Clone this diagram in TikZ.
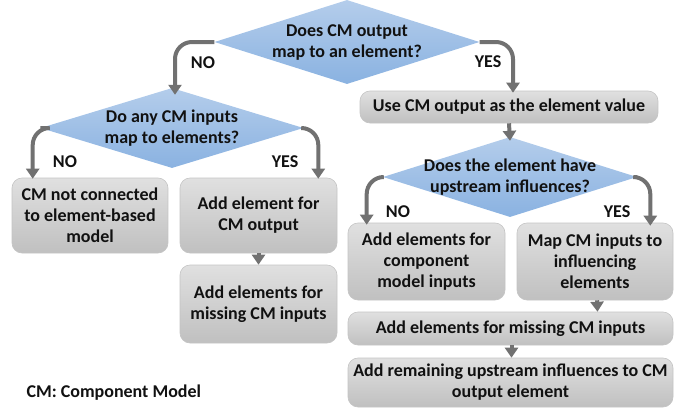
\documentclass[tikz,border=0pt]{standalone}
\usepackage{fontspec}
\setmainfont{Carlito}
\usetikzlibrary{shapes.geometric,arrows.meta,calc,shadows}
\definecolor{arrgray}{HTML}{717171}
\definecolor{boxtop}{HTML}{E0E0E0}
\definecolor{boxbot}{HTML}{C0C0C0}
\definecolor{boxline}{HTML}{C4C4C4}
\definecolor{dtop}{HTML}{B4CDEB}
\definecolor{dbot}{HTML}{8AB2E1}
\definecolor{txt}{HTML}{111111}
\begin{document}
\begin{tikzpicture}[x=1pt,y=-1pt,
  every node/.style={font=\bfseries\fontsize{18}{21}\selectfont, text=txt},
  dec/.style={diamond, inner sep=0pt, top color=dtop, bottom color=dbot, draw=none},
  dectext/.style={align=center, inner sep=0pt},
  stepbox/.style={rectangle, rounded corners=10pt, top color=boxtop, bottom color=boxbot, draw=boxline, line width=0.6pt, align=center, inner sep=2pt},
  arr/.style={draw=arrgray, line width=4pt, -{Triangle[width=13pt,length=10pt]}, rounded corners=17pt},
  lbl/.style={font=\bfseries\fontsize{18}{21}\selectfont}
]
\useasboundingbox (0,0) rectangle (689,410);

% diamonds
\node[dec, minimum width=265pt, minimum height=84pt] (d1) at (347,42) {};
\node[dectext] (d1t) at (347,42.5) {Does CM output\\map to an element?};
\node[dec, minimum width=263pt, minimum height=80pt] (d2) at (172,128) {};
\node[dectext] (d2t) at (172,128) {Do any CM inputs\\map to elements?};
\node[dec, minimum width=254pt, minimum height=80pt] (d3) at (510,177) {};
\node[dectext] (d3t) at (510,177) {Does the element have\\upstream influences?};

% boxes
\node[stepbox, minimum width=298pt, minimum height=32pt] (u) at (509,107) {Use CM output as the element value};
\node[stepbox, minimum width=156pt, minimum height=75pt] (b1) at (90,215.5) {CM not connected\\to element-based\\model};
\node[stepbox, minimum width=157pt, minimum height=75pt] (b2) at (258.5,215.5) {Add element for\\CM output};
\node[stepbox, minimum width=157pt, minimum height=78pt] (b2b) at (258.5,304) {Add elements for\\missing CM inputs};
\node[stepbox, minimum width=157pt, minimum height=77pt] (b3) at (426.5,261.5) {Add elements for\\component\\model inputs};
\node[stepbox, minimum width=156pt, minimum height=77pt] (b4) at (595,261.5) {Map CM inputs to\\influencing\\elements};
\node[stepbox, minimum width=325pt, minimum height=33pt] (b5) at (510.5,328.5) {Add elements for missing CM inputs};
\node[stepbox, minimum width=325pt, minimum height=49pt] (b6) at (510.5,382.5) {Add remaining upstream influences to CM\\output element};

% connectors
\draw[arr] (d1.west) -| ($(d2.north)+(3,7)$);
\draw[arr] (d1.east) -| ($(u.north)+(4,2)$);
\draw[arr] (d2.west) -| ($(b1.north west)+(21,1)$);
\draw[arr] (d2.east) -| ($(b2.north east)+(-19,1)$);
\draw[arr] (d3.west) -| ($(b3.north west)+(19,2)$);
\draw[arr] (d3.east) -| ($(b4.north east)+(-23,3)$);
\draw[arr, rounded corners=0pt] (u.south) -- ($(d3.north)+(0,4)$);
\draw[arr, rounded corners=0pt] (b2.south) -- (b2b.north);
\draw[arr, rounded corners=0pt] ($(b4.south)+(2,0)$) -- ($(b5.north)+(87,0)$);
\draw[arr, rounded corners=0pt] ($(b5.south)+(1,0)$) -- ($(b6.north)+(1,0)$);

% labels
\node[lbl] (n1) at (203,63) {NO};
\node[lbl] (y1) at (488,62) {YES};
\node[lbl] (n2) at (65,162) {NO};
\node[lbl] (y2) at (285,162) {YES};
\node[lbl] (n3) at (398,212) {NO};
\node[lbl] (y3) at (617,212) {YES};
\node[lbl, anchor=west] (cm) at (23,393) {CM: Component Model};
\end{tikzpicture}
\end{document}
